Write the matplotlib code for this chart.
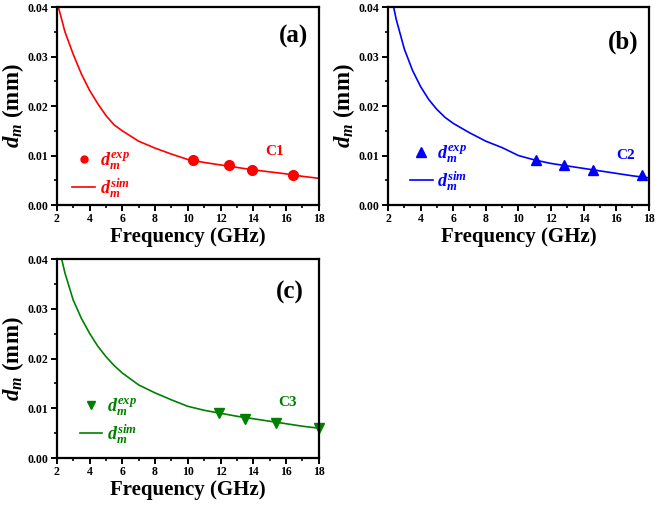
import numpy as np
import matplotlib
matplotlib.use("Agg")
from matplotlib import pyplot as plt
from matplotlib.lines import Line2D

plt.rcParams['font.family'] = ['Liberation Serif', 'DejaVu Serif']
plt.rcParams['font.weight'] = 'bold'
plt.rcParams['mathtext.fontset'] = 'custom'
plt.rcParams['mathtext.rm'] = 'Liberation Serif'
plt.rcParams['mathtext.it'] = 'Liberation Serif:italic'
plt.rcParams['mathtext.bf'] = 'Liberation Serif:bold'
plt.rcParams['mathtext.bfit'] = 'Liberation Serif:italic:bold'

# simulated curves
f_sim_a = [2.1, 2.5, 3, 3.5, 4, 4.5, 5, 5.5, 6, 7, 8, 9, 10, 11, 12, 13, 14, 15, 16, 17, 18]
d_sim_a = [0.040, 0.0350, 0.0305, 0.0265, 0.0232, 0.0205, 0.0181, 0.0162, 0.0150, 0.0129,
           0.0115, 0.0103, 0.0092, 0.0086, 0.0081, 0.0076, 0.0071, 0.0067, 0.0063, 0.0058, 0.0054]
f_sim_b = [2.34, 2.5, 3, 3.5, 4, 4.5, 5, 5.5, 6, 7, 8, 9, 10, 11, 12, 13, 14, 15, 16, 17, 18]
d_sim_b = [0.040, 0.0375, 0.0315, 0.0272, 0.0239, 0.0213, 0.0193, 0.0177, 0.0165, 0.0146,
           0.0129, 0.0116, 0.0100, 0.0091, 0.0084, 0.0079, 0.0074, 0.0069, 0.0064, 0.0059, 0.0055]
f_sim_c = [2.3, 2.5, 3, 3.5, 4, 4.5, 5, 5.5, 6, 7, 8, 9, 10, 11, 12, 13, 14, 15, 16, 17, 18]
d_sim_c = [0.040, 0.0372, 0.0318, 0.0281, 0.0251, 0.0225, 0.0204, 0.0186, 0.0171, 0.0147,
           0.0131, 0.0117, 0.0104, 0.0096, 0.0090, 0.0084, 0.0079, 0.0074, 0.0069, 0.0064, 0.0060]

# measured points
f_exp_a = [10.3, 12.5, 13.9, 16.4]
d_exp_a = [0.009, 0.008, 0.007, 0.006]
f_exp_b = [11.1, 12.8, 14.6, 17.6]
d_exp_b = [0.009, 0.008, 0.007, 0.006]
f_exp_c = [11.9, 13.5, 15.4, 18.0]
d_exp_c = [0.009, 0.0078, 0.007, 0.006]

panels = [
    dict(rect=[0.086, 0.594, 0.397, 0.392], fs=f_sim_a, ds=d_sim_a, fe=f_exp_a, de=d_exp_a,
         col='#ff0000', mk='o', lms=5, tag='(a)', tagpos=(0.905, 0.85), name='C1',
         namepos=(0.83, 0.268), legpos=(0.06, 0.152)),
    dict(rect=[0.588, 0.594, 0.395, 0.392], fs=f_sim_b, ds=d_sim_b, fe=f_exp_b, de=d_exp_b,
         col='#0000ff', mk='^', lms=7, tag='(b)', tagpos=(0.90, 0.82), name='C2',
         namepos=(0.912, 0.25), legpos=(0.084, 0.187)),
    dict(rect=[0.086, 0.093, 0.397, 0.394], fs=f_sim_c, ds=d_sim_c, fe=f_exp_c, de=d_exp_c,
         col='#008000', mk='v', lms=6, tag='(c)', tagpos=(0.89, 0.83), name='C3',
         namepos=(0.88, 0.28), legpos=(0.088, 0.186)),
]

fig = plt.figure(figsize=(6.6, 5.05), dpi=100)

for p in panels:
    col, mk = p['col'], p['mk']
    ax = fig.add_axes(p['rect'])
    ax.plot(p['fs'], p['ds'], color=col, lw=1.2)
    ax.plot(p['fe'], p['de'], linestyle='none', marker=mk, color=col, markersize=7, clip_on=False)
    ax.set_xlim(2, 18)
    ax.set_ylim(0, 0.04)
    ax.set_xticks(np.arange(2, 19, 2))
    ax.set_xticks(np.arange(3, 18, 2), minor=True)
    ax.set_yticks([0.0, 0.01, 0.02, 0.03, 0.04])
    ax.set_yticks([0.005, 0.015, 0.025, 0.035], minor=True)
    ax.set_yticklabels(['0.00', '0.01', '0.02', '0.03', '0.04'])
    for s in ax.spines.values():
        s.set_linewidth(1.6)
    ax.tick_params(which='major', direction='out', length=4, width=1.4, labelsize=8.5, pad=2)
    ax.tick_params(which='minor', direction='out', length=2.5, width=1.2)
    for lab in ax.get_xticklabels() + ax.get_yticklabels():
        lab.set_fontweight('bold')
    ax.set_xlabel('Frequency (GHz)', fontsize=15, fontweight='bold', labelpad=1)
    ax.set_ylabel(r'$\mathbfit{d}_\mathbfit{m}$ (mm)', fontsize=16.5, fontweight='bold', labelpad=1)
    ax.text(p['tagpos'][0], p['tagpos'][1], p['tag'], transform=ax.transAxes, fontsize=18,
            fontweight='bold', ha='center', va='center')
    ax.text(p['namepos'][0], p['namepos'][1], p['name'], transform=ax.transAxes, fontsize=11,
            fontweight='bold', color=col, ha='center', va='center')
    h1 = Line2D([], [], linestyle='none', marker=mk, color=col, markersize=p['lms'])
    h2 = Line2D([], [], color=col, lw=1.2)
    ax.legend([h1, h2], [r'$d_m^{exp}$', r'$d_m^{sim}$'], loc='center left',
              bbox_to_anchor=p['legpos'], frameon=False, fontsize=13,
              labelcolor=col, handlelength=1.25, handletextpad=0.25, labelspacing=0.25,
              borderpad=0, borderaxespad=0)

plt.savefig('out.png', dpi=100)
